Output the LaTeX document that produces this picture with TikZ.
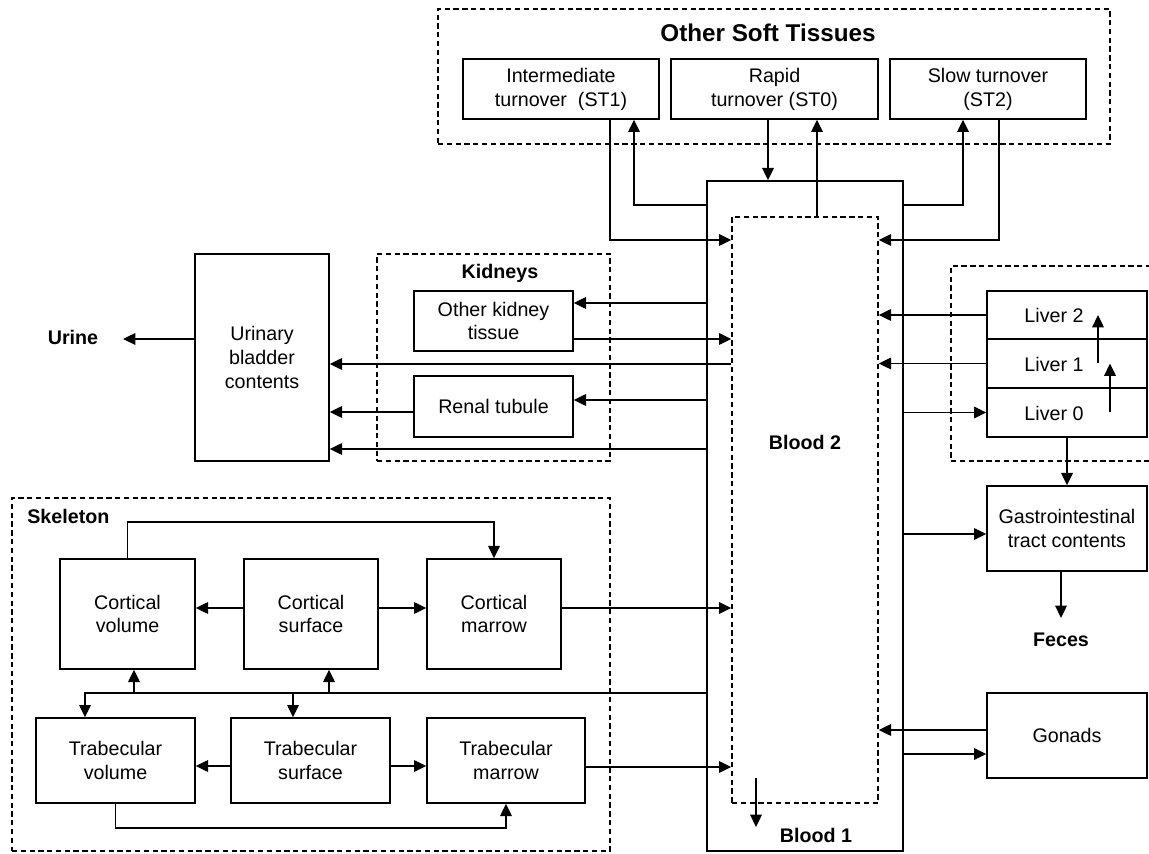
\documentclass[tikz,border=0pt]{standalone}
\usepackage{fontspec}
\setmainfont{Liberation Sans}
\usetikzlibrary{arrows.meta}
\begin{document}
\begin{tikzpicture}[x=0.02cm,y=-0.02cm,
  every node/.style={font=\fontsize{11.2pt}{13.6pt}\selectfont},
  box/.style={draw, line width=0.8pt, inner sep=0pt, align=center},
  dbox/.style={draw, line width=0.8pt, dash pattern=on 3pt off 2pt, inner sep=0pt},
  rect/.style n args={4}{minimum width={(#3-#1)*0.02cm}, minimum height={(#4-#2)*0.02cm},
     at={({(#1+#3)/2},{(#2+#4)/2})}},
  arr/.style={line width=1.1pt, -{Triangle[length=7pt,width=6.5pt]}},
  lbl/.style={font=\bfseries\fontsize{11.2pt}{13.6pt}\selectfont, inner sep=0pt},
]
\useasboundingbox (0,0) rectangle (1149,854);
\fill[white] (0,0) rectangle (1149,854);

% ---------- Other soft tissues ----------
\node[dbox, rect={438}{9}{1110}{144}] (ost) {};
\node[lbl, font=\bfseries\fontsize{13.8pt}{16pt}\selectfont] (osttitle) at (768,33) {Other Soft Tissues};
\node[box, rect={463}{59}{659}{119}] (st1) {Intermediate\\turnover\ \ (ST1)};
\node[box, rect={671}{59}{878}{119}] (st0) {Rapid\\turnover (ST0)};
\node[box, rect={890}{59}{1086}{119}] (st2) {Slow turnover\\(ST2)};

% ---------- Blood ----------
\node[box, rect={707}{181}{903}{851}] (blood1) {};
\node[dbox, rect={732}{217}{878}{803}] (blood2) {};
\node[lbl] (b2lbl) at (805,442) {Blood 2};
\node[lbl] (b1lbl) at (816,835) {Blood 1};
\coordinate (b1a) at (756,778);
\coordinate (b1b) at (756,827);

% ---------- Kidneys & bladder ----------
\node[dbox, rect={377}{254}{610}{461}] (kid) {};
\node[lbl] (kidlbl) at (500,273) {Kidneys};
\node[box, rect={414}{291}{573}{351}] (okt) {Other kidney\\tissue};
\node[box, rect={414}{376}{573}{437}] (rt) {Renal tubule};
\node[box, rect={195}{254}{329}{461}] (bladder) {Urinary\\bladder\\contents};
\node[lbl] (urine) at (73,337) {Urine};
\coordinate (urinetip) at (123,339);

% ---------- Liver, GI, gonads ----------
\draw[line width=0.8pt, dash pattern=on 3pt off 2pt] (1160,266) -- (951,266) -- (951,461) -- (1160,461);
\node[box, rect={987}{291}{1147}{339}] (liv2) {};
\node[box, rect={987}{339}{1147}{388}] (liv1) {};
\node[box, rect={987}{388}{1147}{437}] (liv0) {};
\node (liv2t) at (1054,315) {Liver 2};
\node (liv1t) at (1054,364) {Liver 1};
\node (liv0t) at (1054,413) {Liver 0};
\node[box, rect={987}{486}{1147}{571}] (gi) {Gastrointestinal\\tract contents};
\node[lbl] (feces) at (1061,640) {Feces};
\coordinate (fecestip) at (1061,618);
\node[box, rect={987}{693}{1147}{778}] (gon) {Gonads};

% ---------- Skeleton ----------
\node[dbox, rect={12}{498}{610}{851}] (skel) {};
\node[lbl, anchor=west] (skellbl) at (27,516) {Skeleton};
\node[box, rect={60}{559}{195}{669}] (cv) {Cortical\\volume};
\node[box, rect={244}{559}{378}{669}] (cs) {Cortical\\surface};
\node[box, rect={427}{559}{561}{669}] (cm) {Cortical\\marrow};
\node[box, rect={36}{718}{195}{803}] (tv) {Trabecular\\volume};
\node[box, rect={231}{718}{390}{803}] (ts) {Trabecular\\surface};
\node[box, rect={427}{718}{585}{803}] (tm) {Trabecular\\marrow};
\coordinate (bus) at (0,693);

% ---------- connectors: soft tissues ----------
\draw[arr] (st1.south -| 610,0) |- (blood2.west |- 0,240);
\draw[arr] (blood1.west |- 0,205) -| (st1.south -| 634,0);
\draw[arr] (st0.south -| 768,0) -- (blood1.north -| 768,0);
\draw[arr] (blood2.north -| 817,0) -- (st0.south -| 817,0);
\draw[arr] (blood1.east |- 0,205) -| (st2.south -| 963,0);
\draw[arr] (st2.south -| 999,0) |- (blood2.east |- 0,240);

% ---------- connectors: kidneys ----------
\draw[arr] (blood1.west |- 0,303) -- (okt.east |- 0,303);
\draw[arr] (okt.east |- 0,339) -- (blood2.west |- 0,339);
\draw[arr] (blood2.west |- 0,364) -- (bladder.east |- 0,364);
\draw[arr] (blood1.west |- 0,400) -- (rt.east |- 0,400);
\draw[arr] (rt.west |- 0,412) -- (bladder.east |- 0,412);
\draw[arr] (blood1.west |- 0,449) -- (bladder.east |- 0,449);
\draw[arr] (bladder.west |- urinetip) -- (urinetip);

% ---------- connectors: liver, GI, gonads ----------
\draw[arr] (liv2.west) -- (blood2.east |- liv2.west);
\draw[arr] (liv1.west) -- (blood2.east |- liv1.west);
\draw[arr] (blood1.east |- liv0.west) -- (liv0.west);
\draw[arr] (liv0 -| 1110,0) -- (liv1 -| 1110,0);
\draw[arr] (liv1 -| 1098,0) -- (liv2 -| 1098,0);
\draw[arr] (liv0.south) -- (gi.north);
\draw[arr] (blood1.east |- 0,534) -- (gi.west |- 0,534);
\draw[arr] (gi.south -| fecestip) -- (fecestip);
\draw[arr] (gon.west |- 0,730) -- (blood2.east |- 0,730);
\draw[arr] (blood1.east |- 0,754) -- (gon.west |- 0,754);
\draw[arr] (b1a) -- (b1b);

% ---------- connectors: skeleton ----------
\draw[arr] (cm.east |- 0,608) -- (blood2.west |- 0,608);
\draw[arr] (tm.east |- 0,767) -- (blood2.west |- 0,767);
\draw[arr] (cs.west |- 0,608) -- (cv.east |- 0,608);
\draw[arr] (cs.east |- 0,608) -- (cm.west |- 0,608);
\draw[arr] (ts.west |- 0,766) -- (tv.east |- 0,766);
\draw[arr] (ts.east |- 0,766) -- (tm.west |- 0,766);
\draw[arr] (cv.north) -- (cv.north |- 0,522) -| (cm.north);
\draw[arr] (tv.south) -- (tv.south |- 0,828) -| (tm.south);
\draw[arr] (blood1.west |- bus) -| (tv.north -| 85,0);
\draw[arr] (bus -| 134,0) -- (cv.south -| 134,0);
\draw[arr] (bus -| 329,0) -- (cs.south -| 329,0);
\draw[arr] (bus -| 293,0) -- (ts.north -| 293,0);
\end{tikzpicture}
\end{document}
